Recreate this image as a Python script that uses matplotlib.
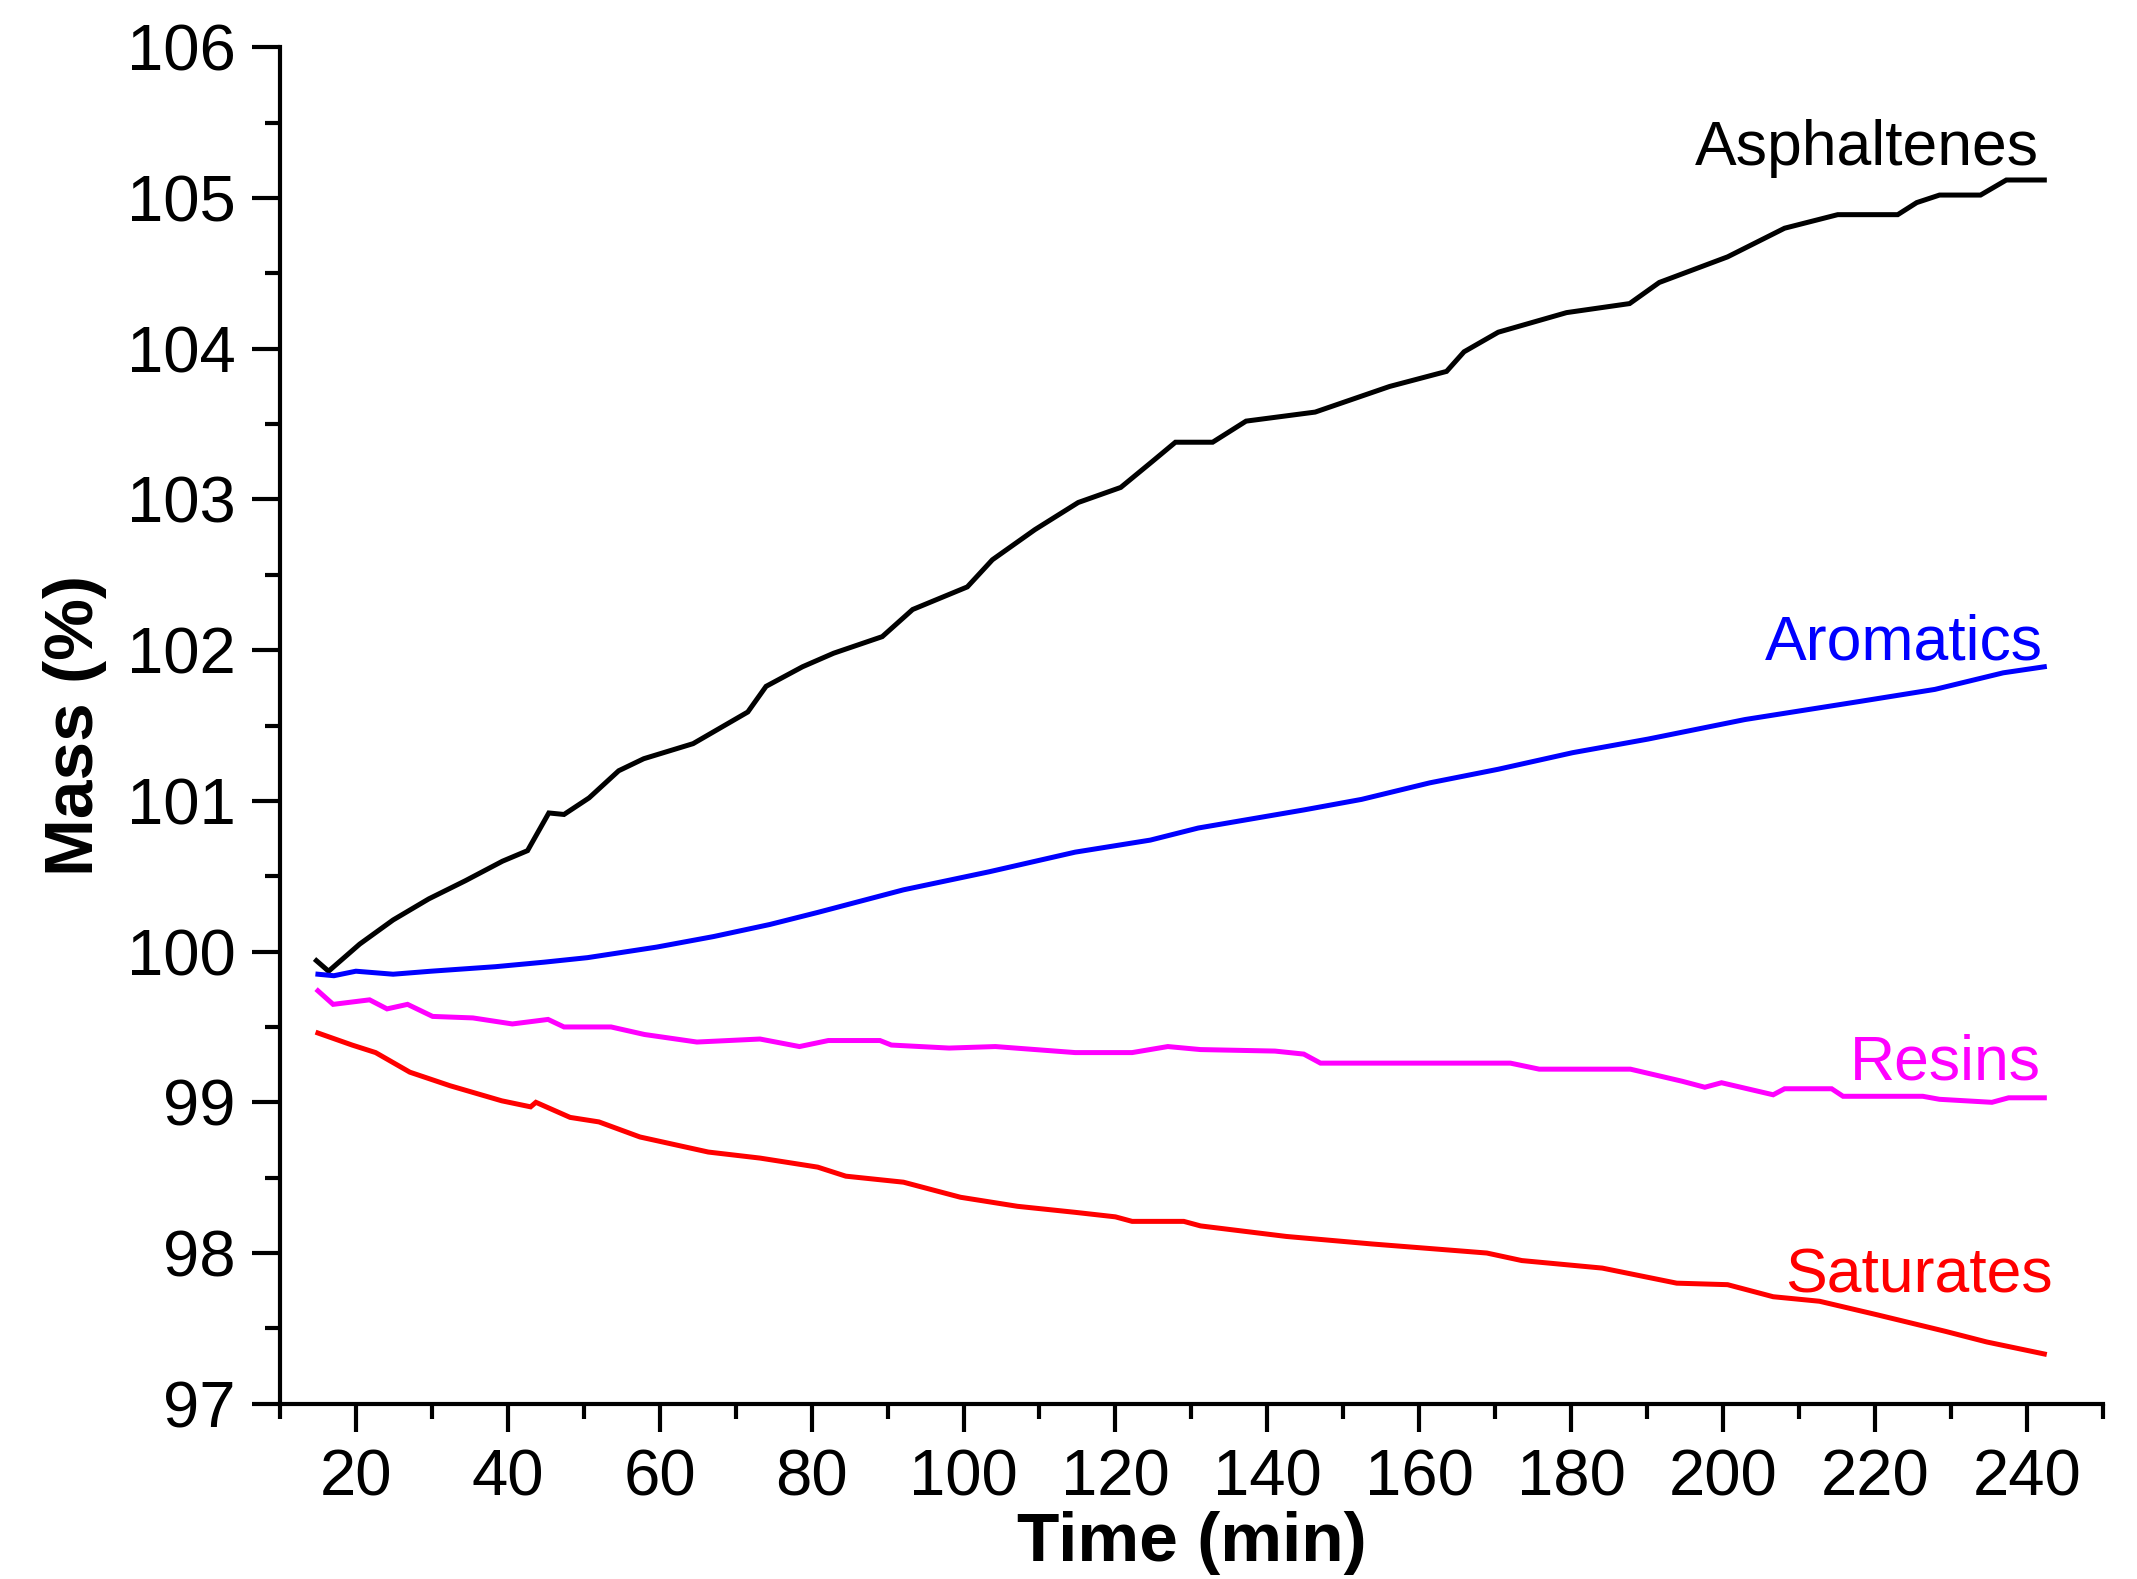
#!/usr/bin/env python3

import matplotlib
matplotlib.use("Agg")
import matplotlib.pyplot as plt
from matplotlib.ticker import MultipleLocator

plt.rcParams["font.family"] = ["Liberation Sans", "DejaVu Sans"]

# Values (time in min, mass in %)
asph_time = [14.8, 16.4, 20.5, 24.9, 29.6, 34.4, 39.3, 42.6, 45.4, 47.4, 50.7, 54.6, 57.9,
             64.4, 71.6, 74.0, 78.8, 82.9, 89.3, 93.3, 100.5, 103.8, 109.4, 115.1, 120.7,
             124.8, 127.9, 132.8, 137.2, 146.3, 156.1, 163.6, 165.9, 170.4, 179.4, 187.7,
             191.6, 200.6, 208.1, 215.1, 223.0, 225.5, 228.5, 233.9, 237.3, 242.3]
asph_mass = [99.94, 99.87, 100.05, 100.21, 100.35, 100.47, 100.6, 100.67, 100.92, 100.91,
             101.02, 101.2, 101.28, 101.38, 101.59, 101.76, 101.89, 101.98, 102.09, 102.27,
             102.42, 102.6, 102.8, 102.98, 103.08, 103.25, 103.38, 103.38, 103.52, 103.58,
             103.75, 103.85, 103.98, 104.11, 104.24, 104.3, 104.44, 104.61, 104.8, 104.89,
             104.89, 104.97, 105.02, 105.02, 105.12, 105.12]

arom_time = [15.0, 17.1, 20.0, 24.9, 29.9, 38.4, 44.8, 50.5, 59.6, 67.1, 74.5, 80.8, 92.1,
             103.4, 114.7, 124.6, 130.9, 144.8, 152.4, 161.4, 170.4, 180.2, 190.1, 202.9,
             218.0, 227.9, 236.9, 242.3]
arom_mass = [99.85, 99.84, 99.87, 99.85, 99.87, 99.9, 99.93, 99.96, 100.03, 100.1, 100.18,
             100.26, 100.41, 100.53, 100.66, 100.74, 100.82, 100.94, 101.01, 101.12, 101.21,
             101.32, 101.41, 101.54, 101.66, 101.74, 101.85, 101.89]

resin_time = [15.0, 17.0, 21.8, 24.1, 26.8, 30.1, 35.4, 40.6, 45.3, 47.4, 53.6, 58.0, 64.9,
              73.2, 78.4, 82.2, 89.0, 90.5, 98.1, 104.2, 114.7, 122.2, 126.9, 131.2, 141.0,
              144.8, 147.0, 172.0, 175.8, 187.8, 194.6, 197.6, 199.8, 206.6, 208.1, 214.3,
              215.8, 226.3, 228.5, 235.4, 237.6, 242.3]
resin_mass = [99.74, 99.65, 99.68, 99.62, 99.65, 99.57, 99.56, 99.52, 99.55, 99.5, 99.5,
              99.45, 99.4, 99.42, 99.37, 99.41, 99.41, 99.38, 99.36, 99.37, 99.33, 99.33,
              99.37, 99.35, 99.34, 99.32, 99.26, 99.26, 99.22, 99.22, 99.14, 99.1, 99.13,
              99.05, 99.09, 99.09, 99.04, 99.04, 99.02, 99.0, 99.03, 99.03]

sat_time = [15.0, 19.5, 22.6, 27.1, 32.4, 39.2, 43.0, 43.7, 48.2, 52.0, 57.4, 66.4, 73.2,
            80.8, 84.5, 92.1, 99.6, 107.1, 114.7, 120.0, 122.2, 129.0, 131.2, 142.5, 153.8,
            168.9, 173.5, 184.1, 193.9, 200.6, 206.6, 212.7, 220.3, 229.3, 234.7, 242.3]
sat_mass = [99.46, 99.38, 99.33, 99.2, 99.11, 99.01, 98.97, 99.0, 98.9, 98.87, 98.77, 98.67,
            98.63, 98.57, 98.51, 98.47, 98.37, 98.31, 98.27, 98.24, 98.21, 98.21, 98.18,
            98.11, 98.06, 98.0, 97.95, 97.9, 97.8, 97.79, 97.71, 97.68, 97.59, 97.48,
            97.41, 97.33]

series_names = ["Asphaltenes", "Aromatics", "Resins", "Saturates"]
series_colors = ["#000000", "#0000ff", "#ff00ff", "#ff0000"]
# label anchor (right end, baseline) in data coordinates
label_x = [241.6, 242.1, 241.8, 243.4]
label_y = [105.22, 101.94, 99.15, 97.74]

fig = plt.figure(figsize=(21.37, 15.79), dpi=100)
ax = fig.add_axes([0.131, 0.111, 0.853, 0.859])

series = [(asph_time, asph_mass), (arom_time, arom_mass),
          (resin_time, resin_mass), (sat_time, sat_mass)]
for (t, m), color in zip(series, series_colors):
    ax.plot(t, m, color=color, linewidth=3.6, solid_joinstyle="miter")

for name, color, x, y in zip(series_names, series_colors, label_x, label_y):
    ax.text(x, y, name, color=color, fontsize=45, ha="right", va="baseline")

ax.set_xlim(10, 250)
ax.set_ylim(97, 106)
ax.xaxis.set_major_locator(MultipleLocator(20))
ax.xaxis.set_minor_locator(MultipleLocator(10))
ax.yaxis.set_major_locator(MultipleLocator(1))
ax.yaxis.set_minor_locator(MultipleLocator(0.5))
ax.set_xticks(range(20, 241, 20))

for side in ["top", "right"]:
    ax.spines[side].set_visible(False)
for side in ["left", "bottom"]:
    ax.spines[side].set_linewidth(3.0)

ax.tick_params(which="major", direction="out", length=20, width=3.0,
               labelsize=47, pad=12)
ax.tick_params(which="minor", direction="out", length=11, width=3.0)

ax.set_xlabel("Time (min)", fontsize=50, fontweight="bold", labelpad=2)
ax.set_ylabel("Mass (%)", fontsize=50, fontweight="bold", labelpad=14)

fig.savefig("out.png", dpi=100)
